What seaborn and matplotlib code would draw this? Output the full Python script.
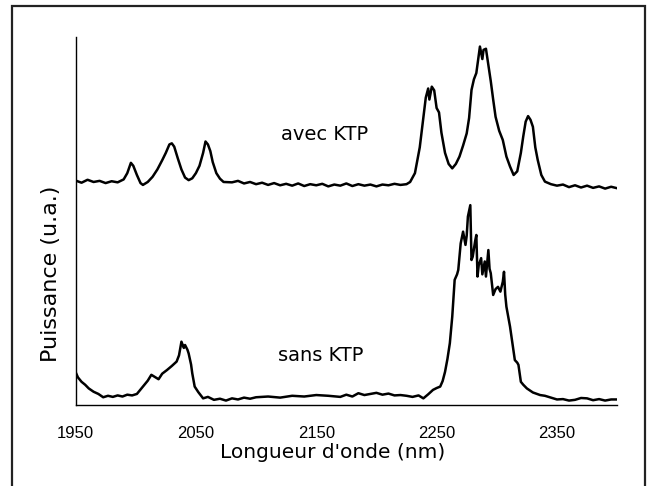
import matplotlib
matplotlib.use("Agg")
import matplotlib.pyplot as plt
import seaborn as sns
import pandas as pd
from matplotlib.patches import Rectangle

# ---- data (wavelength in nm, power in a.u.) ----
avec_nm = [1950, 1955, 1960, 1965, 1970, 1975, 1980, 1985, 1990, 1993, 1996, 1998,
           2001, 2004, 2006, 2010, 2014, 2018, 2022, 2025, 2028, 2030, 2032, 2035,
           2038, 2041, 2044, 2047, 2050, 2053, 2056, 2058, 2060, 2062, 2064, 2067,
           2070, 2073, 2080, 2085, 2090, 2095, 2100, 2105, 2110, 2115, 2120, 2125,
           2130, 2135, 2140, 2145, 2150, 2155, 2160, 2165, 2170, 2175, 2180, 2185,
           2190, 2195, 2200, 2205, 2210, 2215, 2220, 2225, 2228, 2232, 2236, 2239,
           2241, 2243, 2244, 2246, 2248, 2250, 2252, 2254, 2257, 2260, 2263, 2266,
           2269, 2272, 2275, 2277, 2279, 2281, 2283, 2285, 2286, 2288, 2289, 2291,
           2293, 2295, 2297, 2299, 2302, 2305, 2308, 2311, 2314, 2317, 2320, 2322,
           2324, 2326, 2328, 2330, 2332, 2334, 2337, 2340, 2345, 2350, 2355, 2360,
           2365, 2370, 2375, 2380, 2385, 2390, 2395, 2400]
avec_val = [61.0, 60.4, 61.2, 60.6, 60.9, 60.3, 60.8, 60.5, 61.3, 63.0, 65.8, 65.0,
            62.5, 60.3, 59.8, 60.6, 62.0, 64.0, 66.5, 68.5, 70.8, 71.1, 70.2, 67.0,
            64.0, 61.8, 61.1, 61.6, 63.0, 65.0, 68.5, 71.6, 70.8, 69.0, 66.0, 63.0,
            61.5, 60.6, 60.5, 60.9, 60.2, 60.6, 60.0, 60.4, 59.8, 60.3, 59.7, 60.1,
            59.6, 60.2, 59.5, 60.0, 59.7, 60.1, 59.4, 59.9, 59.6, 60.2, 59.5, 60.0,
            59.6, 59.9, 59.4, 59.9, 59.7, 60.1, 59.8, 60.0, 60.6, 63.0, 70.0, 78.0,
            83.5, 86.0, 83.0, 86.5, 85.5, 80.7, 79.5, 74.0, 68.5, 65.5, 64.3, 65.5,
            67.5, 70.5, 73.8, 78.0, 85.6, 88.5, 90.2, 95.0, 97.4, 94.0, 96.5, 96.8,
            92.4, 88.0, 83.0, 78.3, 74.5, 72.0, 67.5, 64.8, 62.5, 63.5, 68.5, 73.0,
            77.0, 78.5, 77.5, 75.6, 70.0, 66.6, 62.5, 60.7, 60.0, 59.6, 59.9, 59.2,
            59.7, 59.1, 59.6, 59.0, 59.4, 58.8, 59.3, 58.9]

sans_nm = [1950, 1952, 1955, 1958, 1961, 1965, 1969, 1973, 1977, 1981, 1985, 1989,
           1993, 1997, 2001, 2004, 2007, 2010, 2013, 2016, 2019, 2022, 2026, 2030,
           2034, 2036, 2038, 2040, 2041, 2043, 2044, 2046, 2047, 2049, 2052, 2056,
           2060, 2065, 2070, 2075, 2080, 2085, 2090, 2095, 2100, 2110, 2120, 2130,
           2140, 2150, 2160, 2170, 2175, 2180, 2185, 2190, 2195, 2200, 2205, 2210,
           2215, 2220, 2225, 2230, 2235, 2239, 2243, 2247, 2250, 2253, 2255, 2257,
           2259, 2261, 2263, 2265, 2267, 2268, 2270, 2272, 2274, 2275, 2276, 2278,
           2279, 2280, 2282, 2283, 2284, 2285, 2287, 2288, 2290, 2291, 2293, 2294,
           2295, 2297, 2299, 2301, 2303, 2305, 2306, 2307, 2308, 2311, 2313, 2315,
           2317, 2318, 2320, 2322, 2325, 2330, 2336, 2340, 2345, 2350, 2355, 2360,
           2365, 2370, 2375, 2380, 2385, 2390, 2395, 2400]
sans_val = [9.0, 7.5, 6.3, 5.5, 4.5, 3.6, 3.0, 2.1, 2.5, 2.2, 2.6, 2.3,
            2.8, 2.6, 3.0, 4.2, 5.4, 6.6, 8.2, 7.6, 7.0, 8.5, 9.5, 10.6,
            11.8, 13.5, 17.2, 15.5, 16.3, 15.0, 14.0, 11.0, 8.6, 5.0, 3.5, 1.8,
            2.2, 1.4, 1.7, 1.2, 1.8, 1.5, 2.0, 1.7, 2.1, 2.3, 2.0, 2.5,
            2.3, 2.7, 2.5, 2.2, 2.8, 2.3, 3.2, 2.7, 3.0, 3.3, 2.8, 3.1,
            2.6, 2.7, 2.5, 2.2, 2.6, 1.8, 2.9, 4.1, 4.6, 5.0, 6.5, 9.0,
            12.5, 16.8, 24.0, 34.0, 35.5, 36.7, 43.9, 47.1, 43.5, 46.0, 51.2, 54.3,
            39.4, 40.3, 44.5, 46.2, 34.9, 38.0, 39.9, 35.5, 39.0, 34.9, 42.1, 37.0,
            35.8, 29.9, 31.5, 32.1, 30.8, 33.5, 36.2, 30.0, 26.7, 21.3, 16.8, 12.2,
            11.5, 10.9, 6.3, 5.5, 4.5, 3.4, 2.7, 2.5, 2.0, 1.5, 1.6, 1.2,
            1.4, 1.9, 1.8, 1.3, 1.6, 1.2, 1.5, 1.5]

x_ticks = [1950, 2050, 2150, 2250, 2350]
labels = ["avec KTP", "sans KTP"]

# ---- plotting ----
sns.set_style("white")
plt.rcParams["font.family"] = ["DejaVu Sans"]
plt.rcParams["text.color"] = "black"
plt.rcParams["axes.labelcolor"] = "black"
plt.rcParams["xtick.color"] = "black"

fig = plt.figure(figsize=(6.51, 4.86), dpi=100)
ax = fig.add_axes([0.116, 0.1667, 0.832, 0.7572])

df_avec = pd.DataFrame({"nm": avec_nm, "p": avec_val})
df_sans = pd.DataFrame({"nm": sans_nm, "p": sans_val})
sns.lineplot(data=df_avec, x="nm", y="p", ax=ax, color="black", linewidth=1.8)
sns.lineplot(data=df_sans, x="nm", y="p", ax=ax, color="black", linewidth=1.8)

ax.set_xlim(1950, 2400)
ax.set_ylim(0, 100)
ax.set_xticks(x_ticks)
ax.set_xticklabels([str(t) for t in x_ticks], fontfamily="Liberation Sans", fontsize=12,
                   color="black")
ax.set_yticks([])
ax.tick_params(axis="x", direction="in", length=4, width=0.8, pad=15, color="black")
for s in ["top", "right"]:
    ax.spines[s].set_visible(False)
for s in ["left", "bottom"]:
    ax.spines[s].set_color("black")
    ax.spines[s].set_linewidth(1.0)

ax.set_xlabel("Longueur d'onde (nm)", fontsize=14.5, color="black")
ax.set_ylabel("Puissance (u.a.)", fontsize=16, color="black")
ax.xaxis.label.set_va("center")
ax.xaxis.set_label_coords(0.474, -0.130)
ax.yaxis.set_label_coords(-0.026, 0.356)

ax.text(2157, 73.5, labels[0], fontsize=14, ha="center", va="center", color="black")
ax.text(2154, 13.5, labels[1], fontsize=14, ha="center", va="center", color="black")

fig.patches.append(Rectangle((0.0184, -0.02), 0.973, 1.008, transform=fig.transFigure,
                             fill=False, edgecolor="#222222", linewidth=1.6))

fig.savefig("out.png", dpi=100)
